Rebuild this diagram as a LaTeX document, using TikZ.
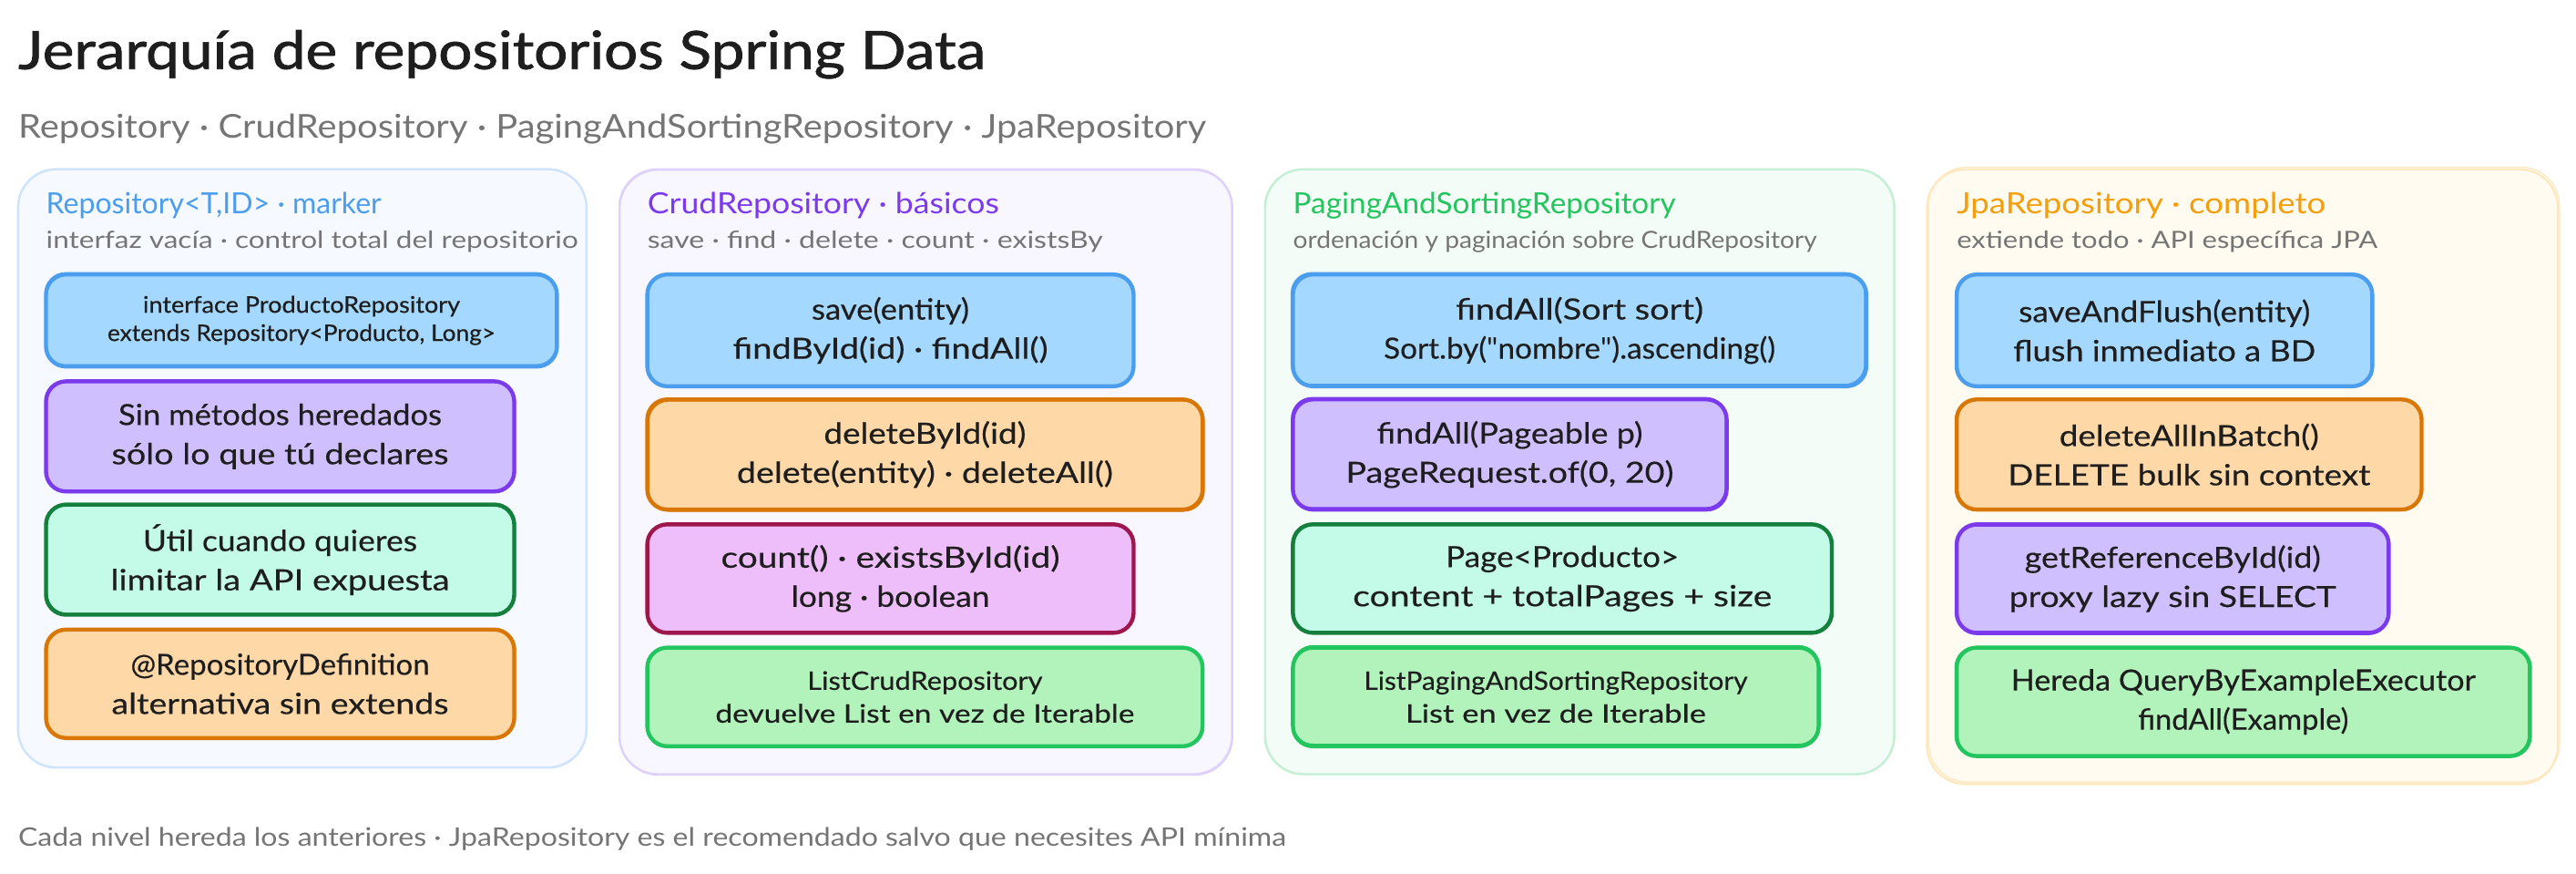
\documentclass[tikz,border=0pt]{standalone}
\usepackage{fontspec}
\usepackage{graphicx}
\setmainfont{Lato}
\newfontfamily\plainq{Lato}
\newfontfamily\heavy[FakeBold=1.2]{Lato}
\newfontfamily\midw[FakeBold=0.35]{Lato}
\newcommand{\tw}[2]{\resizebox{#1pt}{\height}{#2}}
\newcommand{\fz}[2]{\fontsize{#1}{#2}\selectfont}
\definecolor{ink}{HTML}{1E1E1E}
\definecolor{gr}{HTML}{757575}
\definecolor{sblue}{HTML}{4A9EED}\definecolor{fblue}{HTML}{A5D8FF}
\definecolor{spur}{HTML}{7C3AED}\definecolor{fpur}{HTML}{D0BFFF}
\definecolor{sgrn}{HTML}{15803D}\definecolor{fgrn}{HTML}{C3FAE8}
\definecolor{sora}{HTML}{D97706}\definecolor{fora}{HTML}{FFD8A8}
\definecolor{spink}{HTML}{9D174D}\definecolor{fpink}{HTML}{EEBEFA}
\definecolor{slim}{HTML}{22C55E}\definecolor{flim}{HTML}{B2F2BB}
\definecolor{hyel}{HTML}{F59E0B}
\tikzset{
  x=1.80357pt,y=-1.80357pt,
  area/.style n args={4}{at={({(#1+#3)/2},{(#2+#4)/2})},
    minimum width={(#3-#1)*1.80357pt},minimum height={(#4-#2)*1.80357pt}},
  sk/.style={rectangle,inner sep=0pt,align=center,text=ink,
    rounded corners=22pt,line width=4.4pt,font=\midw\fz{32}{43},
    postaction={draw,line width=2pt,transform canvas={xshift={rand*2pt},yshift={rand*2pt}}}},
  sm/.style={font=\midw\fz{28}{36}},
  xs/.style={font=\midw\fz{25}{31}},
  bl/.style={sk,draw=sblue,fill=fblue},
  pu/.style={sk,draw=spur,fill=fpur},
  gn/.style={sk,draw=sgrn,fill=fgrn},
  or/.style={sk,draw=sora,fill=fora},
  pk/.style={sk,draw=spink,fill=fpink},
  lm/.style={sk,draw=slim,fill=flim},
  col/.style={rectangle,inner sep=0pt,rounded corners=42pt,line width=2.4pt,
    postaction={draw,line width=1.2pt,transform canvas={xshift={rand*2.4pt},yshift={rand*2.4pt}}}},
  lab/.style={inner sep=0pt,anchor=base west},
  hd/.style={lab,font=\fz{32}{38}},
  sb/.style={lab,font=\fz{26}{32},text=gr},
}
\begin{document}
\begin{tikzpicture}
\pgfmathsetseed{7}
\useasboundingbox[fill=white] (0,0) rectangle (1568,531.72);
\node[lab,text=ink,font=\heavy\fz{58}{66}] (title) at (11,42) {\tw{1062}{Jerarquía de repositorios Spring Data}};
\node[lab,text=gr,font=\fz{36}{44}] (subtitle) at (11,84) {\tw{1304}{Repository · CrudRepository · PagingAndSortingRepository · JpaRepository}};
\node[lab,text=gr,font=\fz{28}{34}] (footer) at (11,515) {\tw{1392}{Cada nivel hereda los anteriores · JpaRepository es el recomendado salvo que necesites API mínima}};

% columns
\node[col,area={11}{103}{357}{467},draw={rgb,255:red,207;green,227;blue,250},fill={rgb,255:red,246;green,249;blue,255}] (c1) {};
\node[col,area={377}{103}{750}{471},draw={rgb,255:red,222;green,209;blue,250},fill={rgb,255:red,248;green,246;blue,255}] (c2) {};
\node[col,area={770}{103}{1153}{471},draw={rgb,255:red,197;green,239;blue,213},fill={rgb,255:red,243;green,252;blue,246}] (c3) {};
\node[col,area={1173}{103}{1557}{477},draw={rgb,255:red,253;green,232;blue,191},fill={rgb,255:red,255;green,251;blue,240}] (c4) {};

% headers
\node[hd,text=sblue] (h1) at (28,130) {\tw{368}{Repository<T,ID> · marker}};
\node[sb] (s1) at (28,151) {\tw{584}{interfaz vacía · control total del repositorio}};
\node[hd,text=spur] (h2) at (394,130) {\tw{386}{CrudRepository · básicos}};
\node[sb] (s2) at (394,151) {\tw{500}{save · find · delete · count · existsBy}};
\node[hd,text=slim] (h3) at (787,130) {\tw{420}{PagingAndSortingRepository}};
\node[sb] (s3) at (787,151) {\tw{575}{ordenación y paginación sobre CrudRepository}};
\node[hd,text=hyel] (h4) at (1191,130) {\tw{405}{JpaRepository · completo}};
\node[sb] (s4) at (1191,151) {\tw{462}{extiende todo · API específica JPA}};

% column 1
\node[bl,xs,area={28}{167}{339}{223}] (a1) {\tw{348}{interface ProductoRepository}\\\tw{426}{extends Repository<Producto, Long>}};
\node[pu,area={28}{232}{313}{299}] (a2) {\tw{355}{Sin métodos heredados}\\\tw{370}{sólo lo que tú declares}};
\node[gn,area={28}{307}{313}{374}] (a3) {\tw{301}{Útil cuando quieres}\\\tw{372}{limitar la API expuesta}};
\node[or,area={28}{383}{313}{449}] (a4) {\tw{328}{@RepositoryDefinition}\\\tw{370}{alternativa sin extends}};
% column 2
\node[bl,area={394}{167}{690}{235}] (b1) {\tw{173}{save(entity)}\\\tw{346}{findById(id) · findAll()}};
\node[or,area={394}{243}{732}{310}] (b2) {\tw{222}{deleteById(id)}\\\tw{413}{delete(entity) · deleteAll()}};
\node[pk,area={394}{319}{690}{385}] (b3) {\tw{372}{count() · existsById(id)}\\\tw{218}{long · boolean}};
\node[lm,sm,area={394}{394}{732}{454}] (b4) {\tw{258}{ListCrudRepository}\\\tw{460}{devuelve List en vez de Iterable}};
% column 3
\node[bl,area={787}{167}{1136}{235}] (d1) {\tw{272}{findAll(Sort sort)}\\\tw{430}{Sort.by({\plainq"}nombre{\plainq"}).ascending()}};
\node[pu,area={787}{243}{1051}{310}] (d2) {\tw{292}{findAll(Pageable p)}\\\tw{360}{PageRequest.of(0, 20)}};
\node[gn,area={787}{319}{1115}{385}] (d3) {\tw{256}{Page<Producto>}\\\tw{460}{content + totalPages + size}};
\node[lm,sm,area={787}{394}{1107}{454}] (d4) {\tw{421}{ListPagingAndSortingRepository}\\\tw{330}{List en vez de Iterable}};
% column 4
\node[bl,area={1191}{167}{1444}{235}] (e1) {\tw{320}{saveAndFlush(entity)}\\\tw{332}{flush inmediato a BD}};
\node[or,area={1191}{243}{1474}{310}] (e2) {\tw{285}{deleteAllInBatch()}\\\tw{398}{DELETE bulk sin context}};
\node[pu,area={1191}{319}{1454}{385}] (e3) {\tw{325}{getReferenceById(id)}\\\tw{359}{proxy lazy sin SELECT}};
\node[lm,area={1191}{394}{1540}{460}] (e4) {\tw{510}{Hereda QueryByExampleExecutor}\\\tw{231}{findAll(Example)}};
\end{tikzpicture}
\end{document}
